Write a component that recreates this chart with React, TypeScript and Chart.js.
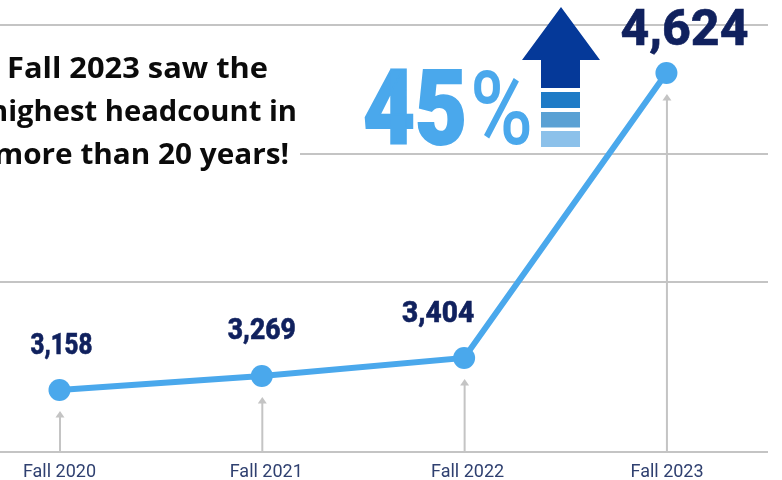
import React, { useEffect, useRef } from "react";
import { Chart, registerables } from "chart.js";

Chart.register(...registerables);

const terms = ["Fall 2020", "Fall 2021", "Fall 2022", "Fall 2023"];
const headcount = [3158, 3269, 3404, 4624];
// The reference's points do not sit linearly against its gridlines: these are
// the heights, in units of the gridline scale.
const plottedHeight = [2160, 2268, 2409, 4626];
const gridValues = [1681, 3000, 4000, 5000];
const noteLines = ["Fall 2023 saw the", "highest headcount in", "more than 20 years!"];
const growthLabel = "45%";

const LINE = "#4aa8ec";
const NAVY = "#10215e";
const GREY = "#c4c4c4";

function fitText(
  ctx: CanvasRenderingContext2D,
  text: string,
  left: number,
  baseline: number,
  width: number,
  font: string,
  color: string,
  strokeWidth = 0
) {
  ctx.save();
  ctx.font = font;
  ctx.fillStyle = color;
  ctx.textAlign = "left";
  ctx.textBaseline = "alphabetic";
  const w = ctx.measureText(text).width;
  ctx.translate(left, baseline);
  ctx.scale(width / w, 1);
  ctx.fillText(text, 0, 0);
  if (strokeWidth) {
    ctx.strokeStyle = color;
    ctx.lineWidth = strokeWidth;
    ctx.strokeText(text, 0, 0);
  }
  ctx.restore();
}

const decorations = {
  id: "decorations",
  beforeDatasetsDraw(chart: any) {
    const { ctx } = chart;
    const meta = chart.getDatasetMeta(0);
    const base = chart.scales.y.getPixelForValue(gridValues[0]);
    ctx.save();
    ctx.strokeStyle = GREY;
    ctx.fillStyle = GREY;
    ctx.lineWidth = 2;
    meta.data.forEach((pt: any) => {
      const tip = pt.y + 21;
      const x = pt.x + 0.5;
      ctx.beginPath();
      ctx.moveTo(x, base);
      ctx.lineTo(x, tip + 5);
      ctx.stroke();
      ctx.beginPath();
      ctx.moveTo(x, tip);
      ctx.lineTo(x - 4.5, tip + 6.5);
      ctx.lineTo(x + 4.5, tip + 6.5);
      ctx.closePath();
      ctx.fill();
    });
    ctx.restore();
  },
  afterDatasetsDraw(chart: any) {
    const { ctx } = chart;
    const meta = chart.getDatasetMeta(0);

    // value labels
    const fmt = (v: number) => v.toLocaleString("en-US");
    const styles = [
      { dx: -29, dy: -36, w: 62, size: 29 },
      { dx: -34, dy: -37, w: 68, size: 29 },
      { dx: -62, dy: -36, w: 72, size: 29 },
      { dx: -46, dy: -28, w: 128, size: 50 },
    ];
    meta.data.forEach((pt: any, i: number) => {
      const s = styles[i];
      fitText(ctx, fmt(headcount[i]), pt.x + s.dx, pt.y + s.dy, s.w, `800 ${s.size}px Roboto`, NAVY, 0.6);
    });

    // note with white backing that interrupts the middle gridline
    ctx.fillStyle = "#ffffff";
    ctx.fillRect(0, 148, 300, 12);
    const noteFont = "700 28px 'Open Sans'";
    fitText(ctx, noteLines[0], 7, 78, 261, noteFont, "#0b0b0b");
    fitText(ctx, noteLines[1], -11, 121, 308, noteFont, "#0b0b0b");
    fitText(ctx, noteLines[2], -6, 164, 295, noteFont, "#0b0b0b");

    // 45%
    fitText(ctx, growthLabel.slice(0, 2), 363, 144, 104, "900 104px Roboto", LINE, 2);
    fitText(ctx, growthLabel.slice(2), 470, 144, 63, "500 102px Roboto", LINE);

    // up arrow
    ctx.save();
    ctx.fillStyle = "#053999";
    ctx.beginPath();
    ctx.moveTo(561, 7);
    ctx.lineTo(600, 60);
    ctx.lineTo(580, 60);
    ctx.lineTo(580, 88);
    ctx.lineTo(541, 88);
    ctx.lineTo(541, 60);
    ctx.lineTo(522, 60);
    ctx.closePath();
    ctx.fill();
    ctx.fillStyle = "#1f7bc6";
    ctx.fillRect(541, 92, 39, 16);
    ctx.fillStyle = "#5aa1d4";
    ctx.fillRect(541, 112, 39, 15.5);
    ctx.fillStyle = "#8cc1ea";
    ctx.fillRect(541, 131, 39, 16);
    ctx.restore();
  },
};

export default function App() {
  const ref = useRef<HTMLCanvasElement>(null);
  useEffect(() => {
    document.body.style.margin = "0";
    const chart = new Chart(ref.current!, {
      type: "line",
      data: {
        datasets: [
          {
            data: plottedHeight.map((y, i) => ({ x: i, y })),
            borderColor: LINE,
            backgroundColor: LINE,
            borderWidth: 6,
            pointRadius: 11,
            pointBackgroundColor: LINE,
            pointBorderWidth: 0,
            tension: 0,
            clip: false,
          },
        ],
      },
      options: {
        animation: false,
        responsive: false,
        layout: { autoPadding: false, padding: { left: 0, right: 14, top: 25, bottom: 0 } },
        plugins: { legend: { display: false }, tooltip: { enabled: false } },
        scales: {
          x: {
            type: "linear",
            min: -0.294,
            max: 3.502,
            grid: { display: false, drawTicks: false },
            border: { display: false },
            afterBuildTicks(axis: any) {
              axis.ticks = [0, 1.022, 2.017, 3.003].map((value) => ({ value }));
            },
            afterFit(axis: any) {
              axis.height = 28.5;
            },
            ticks: {
              autoSkip: false,
              maxRotation: 0,
              padding: 10,
              color: "#2f4070",
              font: { family: "Roboto", size: 18 },
              callback: (v: any) => terms[Math.round(Number(v))],
            },
          },
          y: {
            min: gridValues[0],
            max: gridValues[3],
            border: { display: false },
            grid: { color: GREY, lineWidth: 2, drawTicks: false },
            ticks: { display: false },
            afterFit(axis: any) {
              axis.width = 0;
            },
            afterBuildTicks(axis: any) {
              axis.ticks = gridValues.map((value) => ({ value }));
            },
          },
        },
      },
      plugins: [decorations],
    } as any);
    return () => chart.destroy();
  }, []);
  return <canvas ref={ref} width={782} height={480} style={{ display: "block" }} />;
}
